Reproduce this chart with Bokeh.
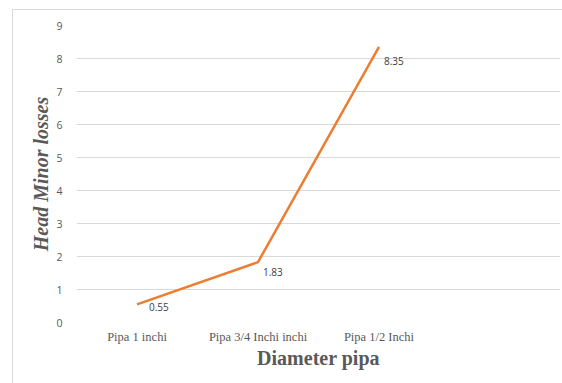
from bokeh.plotting import figure
from bokeh.models import ColumnDataSource, FixedTicker, Range1d
from bokeh.core.properties import value
from bokeh.embed import file_html
from bokeh.resources import INLINE

# Minor head losses per pipe diameter
categories = ["Pipa 1 inchi", "Pipa 3/4 Inchi inchi", "Pipa 1/2 Inchi"]
head_losses = [0.55, 1.83, 8.35]
value_labels = ["0.55", "1.83", "8.35"]
y_ticks = [0, 1, 2, 3, 4, 5, 6, 7, 8, 9]

# categories sit at the centres of four equal slots (the last slot is empty)
x_pos = [i + 0.5 for i in range(len(categories))]

p = figure(width=550, height=374, output_backend="svg", toolbar_location=None,
           x_range=Range1d(0, 4), y_range=Range1d(0, 9),
           min_border_left=63, min_border_right=3, min_border_top=15,
           min_border_bottom=62)
p.margin = (9, 0, 0, 12)
p.styles = {"border-top": "1px solid #d9d9d9", "border-left": "1px solid #d9d9d9"}
p.outline_line_color = None
p.background_fill_color = "white"
p.border_fill_color = "white"

p.line(x_pos, head_losses, line_color="#ED7D31", line_width=2.5)

# value annotations beside each point
src = ColumnDataSource(dict(x=x_pos, y=head_losses, t=value_labels,
                            dx=[12, 5, 5], dy=[3, 10, 14]))
p.text(x="x", y="y", text="t", source=src, x_offset="dx", y_offset="dy",
       text_font=value("Open Sans"), text_font_size="10px", text_color="#404040",
       text_align="left", text_baseline="middle")

# axes
p.xaxis.ticker = FixedTicker(ticks=x_pos)
p.xaxis.major_label_overrides = {x: c for x, c in zip(x_pos, categories)}
p.xaxis.major_label_text_font = "Liberation Serif"
p.xaxis.major_label_text_font_size = "12.5px"
p.xaxis.major_label_text_color = "#595959"
p.xaxis.major_label_standoff = 1
p.xaxis.axis_label = "Diameter pipa"
p.xaxis.axis_label_text_font = "Liberation Serif"
p.xaxis.axis_label_text_font_style = "bold"
p.xaxis.axis_label_text_font_size = "20px"
p.xaxis.axis_label_text_color = "#595959"
p.xaxis.axis_label_standoff = 0

p.yaxis.ticker = FixedTicker(ticks=y_ticks)
p.yaxis.major_label_text_font = "Open Sans"
p.yaxis.major_label_text_font_size = "10.5px"
p.yaxis.major_label_text_color = "#595959"
p.yaxis.major_label_standoff = 8
p.yaxis.axis_label = "Head Minor losses"
p.yaxis.axis_label_text_font = "Liberation Serif"
p.yaxis.axis_label_text_font_style = "bold italic"
p.yaxis.axis_label_text_font_size = "20px"
p.yaxis.axis_label_text_color = "#595959"
p.yaxis.axis_label_standoff = 1

for ax in (p.xaxis, p.yaxis):
    ax.axis_line_color = None
    ax.major_tick_line_color = None
    ax.minor_tick_line_color = None

p.xgrid.grid_line_color = None
p.ygrid.grid_line_color = "#d9d9d9"
p.ygrid.grid_line_width = 1

open("out.html", "w").write(file_html(p, INLINE))
